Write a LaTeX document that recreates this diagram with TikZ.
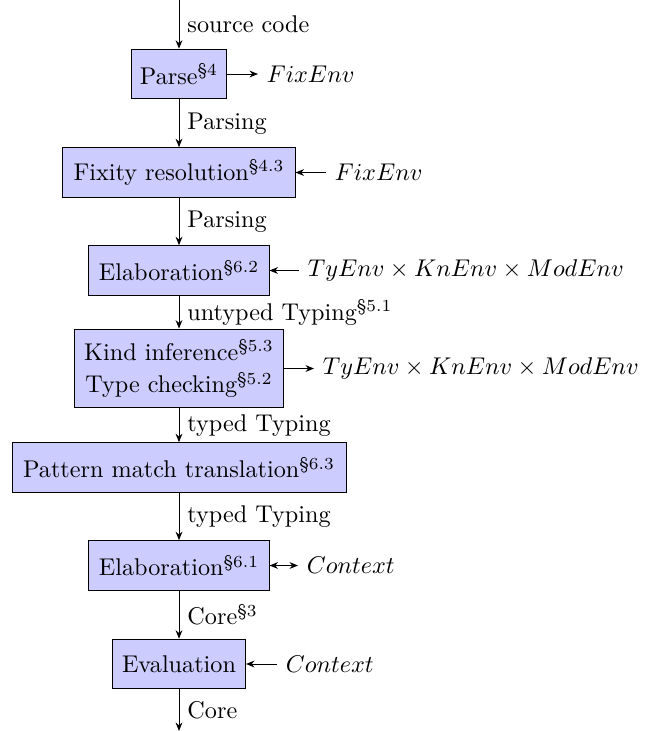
\documentclass[tikz,border=0pt]{standalone}
\usetikzlibrary{arrows.meta}
\begin{document}
\begin{tikzpicture}[x=0.4132pt,y=-0.4132pt,
  stage/.style={draw=black, fill=blue!20, inner sep=0pt, align=center, minimum height=20.5pt},
  arr/.style={-{Stealth[length=3.5pt,width=2.8pt]}},
  rarr/.style={{Stealth[length=3.5pt,width=2.8pt]}-},
  biarr/.style={{Stealth[length=3.5pt,width=2.8pt]}-{Stealth[length=3.5pt,width=2.8pt]}},
  lab/.style={midway, right, inner sep=3.3pt},
  env/.style={anchor=west, inner xsep=3.5pt, inner ysep=0pt}]
\useasboundingbox (0,0) rectangle (657,731);
\coordinate (top) at (179,0);
\coordinate (bot) at (179,731);
\node[stage, minimum width=39.3pt] (parse) at (179,74) {Parse\textsuperscript{\S4}};
\node[stage, minimum width=95.9pt] (fix) at (179,172.5) {Fixity resolution\textsuperscript{\S4.3}};
\node[stage, minimum width=74.4pt] (elabA) at (179,270.5) {Elaboration\textsuperscript{\S6.2}};
\node[stage, minimum width=86.4pt, minimum height=32.6pt] (kind) at (179,368.5)
  {Kind inference\textsuperscript{\S5.3}\\[1.5pt] Type checking\textsuperscript{\S5.2}};
\node[stage, minimum width=138pt] (pat) at (179,467.5) {Pattern match translation\textsuperscript{\S6.3}};
\node[stage, minimum width=74.4pt] (elabB) at (179,565.5) {Elaboration\textsuperscript{\S6.1}};
\node[stage, minimum width=55pt] (eval) at (179,664) {Evaluation};

\node[env] (envA) at (258,74) {$FixEnv$};
\node[env] (envB) at (326,172.5) {$FixEnv$};
\node[env] (envC) at (299,270.5) {$TyEnv \times KnEnv \times ModEnv$};
\node[env] (envD) at (314,368.5) {$TyEnv \times KnEnv \times ModEnv$};
\node[env] (envE) at (298,565.5) {$Context$};
\node[env] (envF) at (277,664) {$Context$};

\draw[arr] (top) -- node[lab] {source code} (parse);
\draw[arr] (parse) -- node[lab] {Parsing} (fix);
\draw[arr] (fix) -- node[lab] {Parsing} (elabA);
\draw[arr] (elabA) -- node[lab] {untyped Typing\textsuperscript{\S5.1}} (kind);
\draw[arr] (kind) -- node[lab] {typed Typing} (pat);
\draw[arr] (pat) -- node[lab] {typed Typing} (elabB);
\draw[arr] (elabB) -- node[lab] {Core\textsuperscript{\S3}} (eval);
\draw[arr] (eval) -- node[lab] {Core} (bot);

\draw[arr] (parse) -- (envA);
\draw[rarr] (fix) -- (envB);
\draw[rarr] (elabA) -- (envC);
\draw[arr] (kind) -- (envD);
\draw[biarr] (elabB) -- (envE);
\draw[rarr] (eval) -- (envF);
\end{tikzpicture}
\end{document}
